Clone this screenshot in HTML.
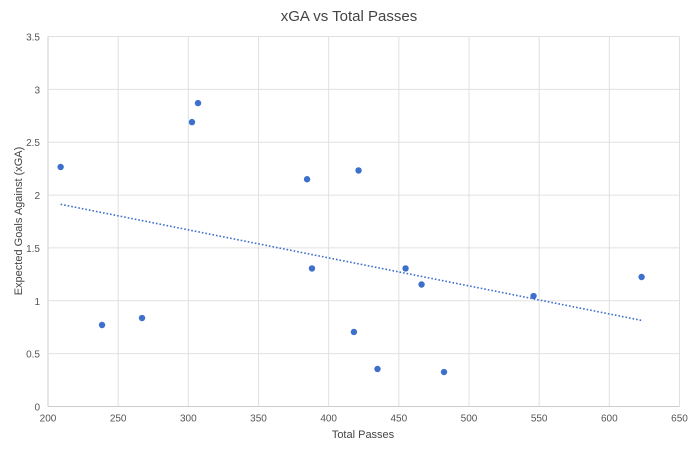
<!DOCTYPE html>
<html><head><meta charset="utf-8"><style>
body{margin:0;background:#fff;width:699px;height:451px;overflow:hidden}
svg{display:block;font-family:"Liberation Sans",Arial,sans-serif}
</style></head><body>
<svg id="chart" width="699" height="451">
<text x="349" y="21" text-anchor="middle" font-size="15" fill="#444">xGA vs Total Passes</text>
<text x="0" y="0" transform="translate(22,221) rotate(-90)" text-anchor="middle" font-size="11" fill="#444">Expected Goals Against (xGA)</text>
<text x="363" y="438" text-anchor="middle" font-size="11" fill="#444">Total Passes</text>
<g id="grid"></g><g id="ticks"></g><g id="trend"></g><g id="pts"></g>
</svg>
<script>
const passes=[209,238.5,267,302.6,306.9,384.6,388.1,421.3,418,434.8,454.8,466.2,482.2,546,623];
const xga=[2.266,0.771,0.837,2.69,2.87,2.15,1.306,2.233,0.705,0.355,1.306,1.154,0.326,1.045,1.225];
const xTicks=[200,250,300,350,400,450,500,550,600,650];
const yTicks=[0,0.5,1,1.5,2,2.5,3,3.5];
const X0=48,X1=679.5,Y0=406.5,Y1=36.5;
const xs=v=>X0+(v-200)/450*(X1-X0);
const ys=v=>Y0-(v/3.5)*(Y0-Y1);
const NS="http://www.w3.org/2000/svg";
function mk(tag,attrs,parent){const e=document.createElementNS(NS,tag);for(const k in attrs)e.setAttribute(k,attrs[k]);document.getElementById(parent).appendChild(e);return e;}
xTicks.forEach(t=>{
 const l=mk('line',{x1:xs(t),x2:xs(t),y1:Y1,y2:Y0,stroke:t===200?'#ccc':'#e0e0e0','stroke-width':1},'grid');
 
 
 const tx=mk('text',{x:xs(t),y:Y0+15,'text-anchor':'middle','font-size':10,fill:'#555'},'ticks');tx.textContent=t;
 
 
});
yTicks.forEach(t=>{
 const l=mk('line',{x1:X0,x2:X1,y1:ys(t),y2:ys(t),stroke:t===0?'#ccc':'#e0e0e0','stroke-width':1},'grid');
 
 
 const tx=mk('text',{x:X0-8,y:ys(t)+4,'text-anchor':'end','font-size':10,fill:'#555'},'ticks');tx.textContent=t;
 
 
});
// least squares trendline
const n=passes.length;let sx=0,sy=0,sxx=0,sxy=0;
for(let i=0;i<n;i++){sx+=passes[i];sy+=xga[i];sxx+=passes[i]*passes[i];sxy+=passes[i]*xga[i];}
const m=(n*sxy-sx*sy)/(n*sxx-sx*sx),b=(sy-m*sx)/n;
const mn=Math.min(...passes),mx=Math.max(...passes);
const tl=mk('line',{x1:xs(mn),y1:ys(m*mn+b),x2:xs(mx),y2:ys(m*mx+b),stroke:'#3d6fcc','stroke-width':1.6,'stroke-dasharray':'1.6,2'},'trend');


passes.forEach((p,i)=>{
 const c=mk('circle',{cx:xs(p),cy:ys(xga[i]),r:3.2,fill:'#3d6fcc'},'pts');
 
 
});
</script>
</body></html>
